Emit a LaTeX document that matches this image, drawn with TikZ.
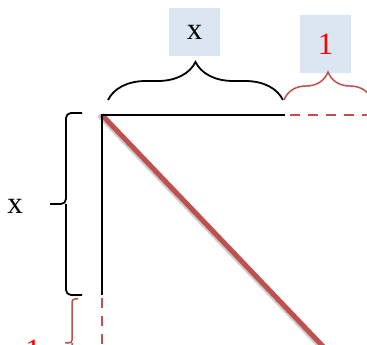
\documentclass[tikz,border=0pt]{standalone}
\usepackage{fontspec}
\setmainfont{Liberation Serif}
\usetikzlibrary{decorations.pathreplacing}
\definecolor{accentred}{HTML}{C0504D}
\definecolor{boxblue}{HTML}{DCE6F2}

\begin{document}
\begin{tikzpicture}[
  x=1pt, y=1pt,
  axis/.style={line width=2pt},
  raxis/.style={accentred,line width=2.5pt,dash pattern=on 10pt off 8pt},
  bracket/.style={decorate,decoration={brace,amplitude=#1},line width=1.8pt},
  sqbracket/.style={rounded corners=5pt,line width=1.8pt},
  labelbox/.style={fill=boxblue,minimum width=51pt,inner sep=0pt,font=\fontsize{31}{34}\selectfont},
  lbl/.style={inner sep=0pt,font=\fontsize{31}{34}\selectfont}
]
  \useasboundingbox (0,0) rectangle (367,345);
  \clip (0,0) rectangle (367,345);
  \coordinate (corner) at (102,230);
  \coordinate (topend) at (285,230);
  \coordinate (topfar) at (375,230);
  \coordinate (leftend) at (102,50);
  \coordinate (leftfar) at (102,-10);
  \coordinate (diagend) at (336,-15);
  \node[labelbox,minimum height=48pt] (bx) at (194.5,313) {x};
  \node[labelbox,minimum height=58pt,text=red] (bone) at (325.5,301) {1};
  \node[lbl] (lx) at (15,139) {x};
  \node[lbl,text=red] (lone) at (33,-5) {1};
  \draw[gray!40,line width=5pt,line cap=round] ([shift={(-1.5,-1.5)}]corner) -- ([shift={(-1.5,-1.5)}]diagend);
  \draw[accentred,line width=5pt] (corner) -- (diagend);
  \draw[axis] (topend) -- (corner) -- (leftend);
  \draw[raxis] ([xshift=5pt]topend) -- (topfar);
  \draw[raxis] ([yshift=-3pt]leftend) -- (leftfar);
  \draw[bracket=38pt] (108,245) -- (283,245);
  \draw[bracket=28pt,accentred,line width=1.5pt] (284,245) -- (372,245);
  \draw[sqbracket] (82,232) -- (66,232) -- (66,141) -- (50,141);
  \draw[sqbracket] (66,141) -- (66,50) -- (82,50);
  \draw[sqbracket,accentred,line width=1.5pt,rounded corners=3pt] (78,46) -- (72,46) -- (72,2) -- (65,2);
  \draw[sqbracket,accentred,line width=1.5pt,rounded corners=3pt] (72,2) -- (72,-42) -- (78,-42);
\end{tikzpicture}
\end{document}
